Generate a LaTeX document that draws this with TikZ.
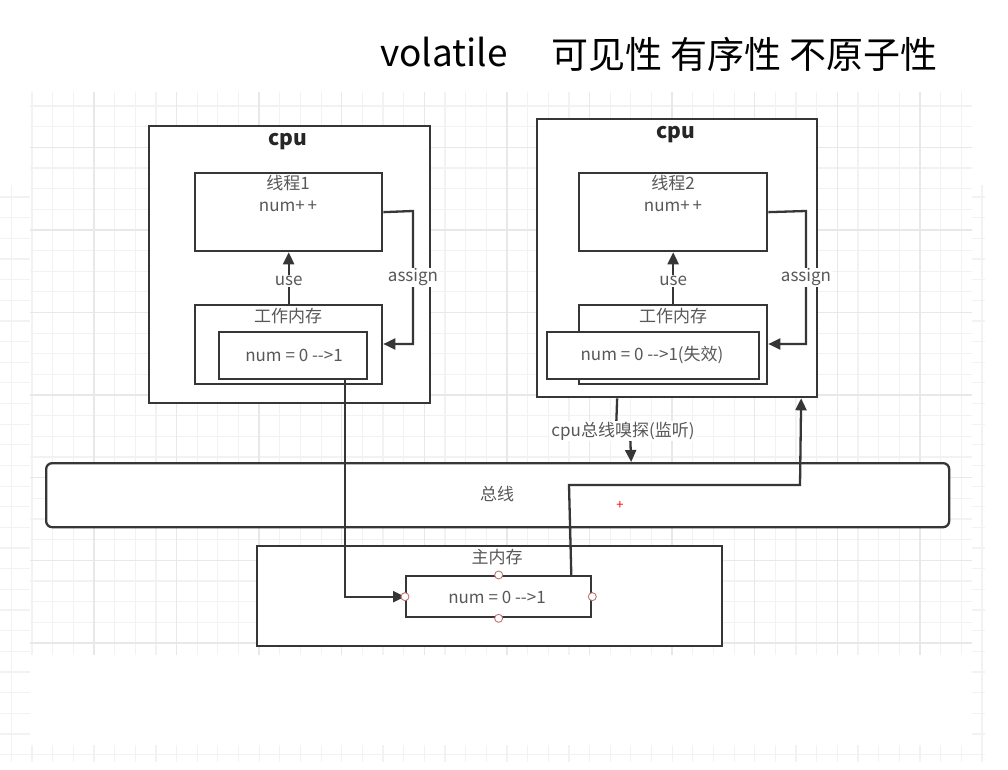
\documentclass[tikz,border=0pt]{standalone}
\usepackage{fontspec}
\newfontfamily\cjk{Noto Sans CJK SC}
\usetikzlibrary{arrows.meta}
\definecolor{ln}{HTML}{363636}
\definecolor{tx}{HTML}{585858}
\definecolor{gmin}{HTML}{F2F2F2}
\definecolor{gmaj}{HTML}{E8E8E8}
\begin{document}
\begin{tikzpicture}[x=1pt,y=-1pt,
 box/.style={draw=ln,line width=2.3pt,fill=white,inner sep=0pt,anchor=north west},
 lbl/.style={font=\cjk\fontsize{17}{20}\selectfont,text=tx,inner sep=1pt},
 cpulbl/.style={font=\cjk\bfseries\fontsize{21}{24}\selectfont,text=black!85,inner sep=1pt},
 title/.style={font=\cjk\fontsize{37}{42}\selectfont,text=black,inner sep=0pt,anchor=base west},
 conn/.style={draw=ln,line width=2.3pt},
 arr/.style={conn,-{Triangle[length=12pt,width=11pt]}},
 cpt/.style={circle,draw=red!55!black!55,fill=white,line width=0.9pt,minimum size=8pt,inner sep=0pt},
 gline/.style={draw=gmin,line width=1.2pt},
 gmajor/.style={draw=gmaj,line width=1.4pt}
]
\useasboundingbox[fill=white] (0,0) rectangle (1008,770);
% background (partially covered) grid
\foreach \k in {-1,...,46} \draw[gline] ({32+\k*20.65},185) -- ({32+\k*20.65},762);
\foreach \k in {-20,...,7} \draw[gline] (0,{610+\k*20.65}) -- (985,{610+\k*20.65});
\fill[white] (30,0) rectangle (972,745);
\fill[white] (985,0) rectangle (1008,770);
\fill[white] (0,0) rectangle (1008,183);
% main grid
\foreach \k in {0,...,45} \draw[gline] ({32+\k*20.65},92) -- ({32+\k*20.65},655);
\foreach \k in {0,...,26} \draw[gline] (30,{106+\k*20.65}) -- (972,{106+\k*20.65});
\foreach \k in {3,7,...,43} \draw[gmajor] ({32+\k*20.65},92) -- ({32+\k*20.65},655);
\foreach \k in {2,6,...,26} \draw[gmajor] (30,{106+\k*20.65}) -- (972,{106+\k*20.65});

% title
\node[title] (tv) at (380,67) {volatile};
\node[title] (tc) at (551,69) {可见性 有序性 不原子性};

% left cpu
\node[box,minimum width=281pt,minimum height=277pt] (cpu1) at (148,125) {};
\node[cpulbl] (cpu1l) at (288,142) {cpu};
\node[box,minimum width=187pt,minimum height=78pt] (t1) at (194,172) {};
\node[lbl] (t1a) at (288,183) {线程1};
\node[lbl] (t1b) at (288,206) {num+\,+};
\node[box,minimum width=187pt,minimum height=79pt] (wm1) at (194,304) {};
\node[lbl] (wm1l) at (288,316) {工作内存};
\node[box,minimum width=148pt,minimum height=47pt] (n1) at (218,331) {};
\node[lbl] (n1l) at (294,355) {num = 0 -{}->1};

% right cpu
\node[box,minimum width=280pt,minimum height=278pt] (cpu2) at (536,118) {};
\node[cpulbl] (cpu2l) at (676,135) {cpu};
\node[box,minimum width=188pt,minimum height=78pt] (t2) at (578,172) {};
\node[lbl] (t2a) at (673,183) {线程2};
\node[lbl] (t2b) at (673,206) {num+\,+};
\node[box,minimum width=188pt,minimum height=79pt] (wm2) at (578,304) {};
\node[lbl] (wm2l) at (673,316) {工作内存};
\node[box,minimum width=212pt,minimum height=47pt] (n2) at (546,331) {};
\node[lbl] (n2l) at (652,355) {num = 0 -{}->1(失效)};

% bus
\node[box,rounded corners=6pt,minimum width=903pt,minimum height=64pt] (bus) at (45,462) {};
\node[lbl] (busl) at (497,494) {总线};
\node[text=red,font=\cjk\fontsize{13}{14}\selectfont,inner sep=0pt] (plus) at (620,505) {+};

% main memory
\node[box,minimum width=465pt,minimum height=100pt] (mm) at (256,545) {};
\node[lbl] (mml) at (497,557) {主内存};
\node[box,minimum width=185pt,minimum height=41pt] (mn) at (405,575) {};
\node[lbl] (mnl) at (497,597) {num = 0 -{}->1};

% connectors cpu1
\draw[arr] (wm1.north) -- node[lbl,fill=white,pos=0.45]{use} (t1.south);
\draw[arr] (t1.east) -- (413,211) -- node[lbl,fill=white,pos=0.5]{assign} (413,344) -- (wm1.east |- 413,344);
% connectors cpu2
\draw[arr] (wm2.north) -- node[lbl,fill=white,pos=0.45]{use} (t2.south);
\draw[arr] (t2.east) -- (806,211) -- node[lbl,fill=white,pos=0.5]{assign} (806,344) -- (wm2.east |- 806,344);

% working memory -> main memory
\draw[arr] ([xshift=52pt]n1.south) |- (mn.west);
% main memory -> cpu2
\draw[arr] ([xshift=-21pt]mn.north east) -- (569,485) -- (800,485) -- ([xshift=124pt]cpu2.south);
% bus snooping
\draw[arr] ([xshift=-60pt]cpu2.south) -- (616,431) -- node[lbl,fill=white,pos=0.5]{cpu总线嗅探(监听)} (630,431) -- ([xshift=133.5pt]bus.north);

% connection points
\node[cpt] (c1) at (mn.west) {};
\node[cpt] (c2) at (mn.east) {};
\node[cpt] (c3) at (mn.north) {};
\node[cpt] (c4) at (mn.south) {};
\end{tikzpicture}
\end{document}
